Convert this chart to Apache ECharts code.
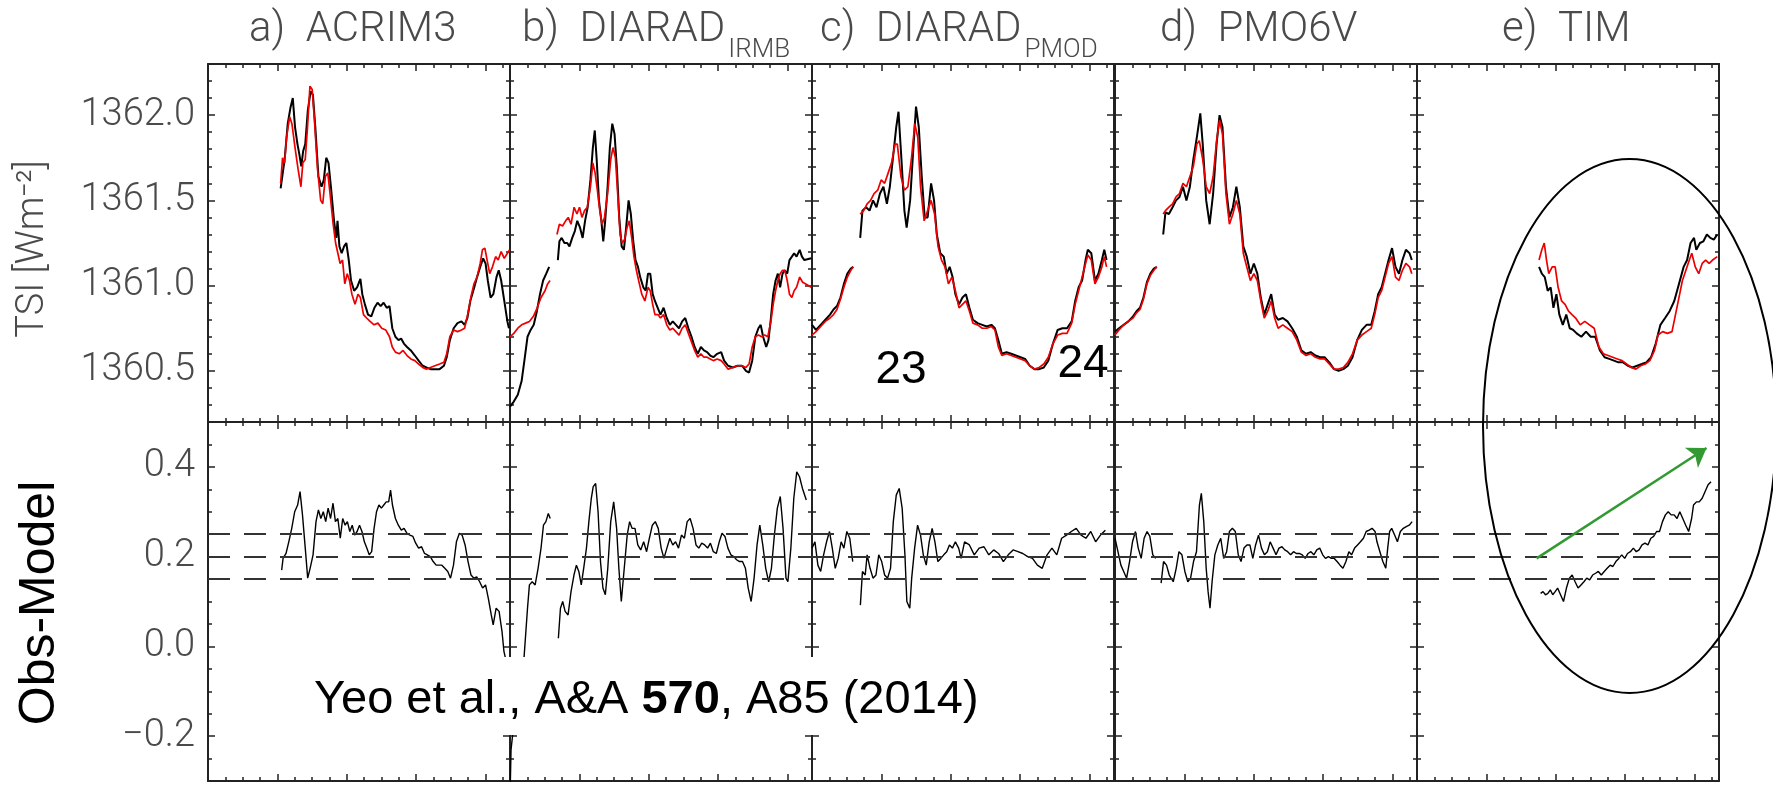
<!DOCTYPE html>
<html><head><meta charset="utf-8">
<script src="https://cdn.jsdelivr.net/npm/echarts@6/dist/echarts.min.js"></script>
<style>html,body{margin:0;padding:0;background:#fff}#c{width:1773px;height:789px}</style>
</head><body><div id="c"></div>
<script>
// ---------------- data ----------------
const panelNames = ['a)  ACRIM3', 'b)  DIARAD', 'c)  DIARAD', 'd)  PMO6V', 'e)  TIM'];
const panelSubs = ['', 'IRMB', 'PMOD', '', ''];
const tsiTicks = [1360.5, 1361.0, 1361.5, 1362.0];
const diffTicks = [-0.2, 0.0, 0.2, 0.4];
const yearTicks = [2000, 2004, 2008, 2012];
const dashLevels = [0.15, 0.2, 0.25];
const cycleLabels = ['23', '24'];
const citation = ['Yeo et al., A&A ', '570', ', A85 (2014)'];
const arrowStart = [2002.9, 0.196];
const arrowEnd = [2012.7, 0.442];

const acrimObs = [[2000.19,1361.57],[2000.42,1361.74],[2000.60,1361.95],[2000.75,1362.04],[2000.89,1362.10],[2001.02,1361.93],[2001.16,1361.83],[2001.27,1361.77],[2001.38,1361.70],[2001.49,1361.79],[2001.61,1361.83],[2001.76,1362.03],[2001.92,1362.14],[2002.05,1362.12],[2002.19,1361.93],[2002.37,1361.64],[2002.55,1361.58],[2002.68,1361.62],[2002.82,1361.75],[2002.95,1361.72],[2003.09,1361.58],[2003.27,1361.38],[2003.40,1361.28],[2003.47,1361.38],[2003.58,1361.23],[2003.71,1361.19],[2003.85,1361.23],[2003.98,1361.25],[2004.12,1361.15],[2004.25,1361.03],[2004.43,1360.97],[2004.60,1360.99],[2004.79,1361.04],[2004.90,1360.95],[2005.05,1360.89],[2005.23,1360.83],[2005.42,1360.82],[2005.60,1360.87],[2005.78,1360.90],[2005.96,1360.88],[2006.13,1360.90],[2006.31,1360.87],[2006.47,1360.88],[2006.63,1360.75],[2006.81,1360.70],[2006.99,1360.68],[2007.14,1360.69],[2007.30,1360.66],[2007.48,1360.64],[2007.70,1360.62],[2007.93,1360.59],[2008.15,1360.56],[2008.38,1360.53],[2008.60,1360.52],[2008.83,1360.51],[2009.09,1360.51],[2009.36,1360.51],[2009.61,1360.53],[2009.77,1360.58],[2009.95,1360.68],[2010.17,1360.75],[2010.39,1360.78],[2010.62,1360.79],[2010.80,1360.77],[2010.96,1360.81],[2011.13,1360.91],[2011.36,1360.99],[2011.52,1361.05],[2011.70,1361.11],[2011.87,1361.16],[2012.01,1361.13],[2012.14,1361.03],[2012.30,1360.93],[2012.46,1360.95],[2012.64,1361.05],[2012.77,1361.09],[2012.91,1361.03],[2013.09,1360.91],[2013.27,1360.79],[2013.36,1360.75]];
const acrimModel = [[2000.19,1361.60],[2000.30,1361.75],[2000.42,1361.72],[2000.53,1361.87],[2000.71,1361.99],[2000.84,1361.95],[2001.02,1361.81],[2001.20,1361.68],[2001.36,1361.58],[2001.47,1361.72],[2001.61,1361.74],[2001.74,1361.93],[2001.88,1362.17],[2002.01,1362.15],[2002.14,1361.97],[2002.32,1361.68],[2002.50,1361.50],[2002.62,1361.48],[2002.77,1361.64],[2002.91,1361.66],[2003.04,1361.54],[2003.22,1361.36],[2003.36,1361.25],[2003.49,1361.19],[2003.62,1361.13],[2003.76,1361.15],[2003.89,1361.01],[2004.03,1361.07],[2004.16,1361.03],[2004.30,1360.95],[2004.48,1360.89],[2004.65,1360.95],[2004.79,1360.93],[2004.97,1360.83],[2005.15,1360.81],[2005.35,1360.79],[2005.58,1360.77],[2005.80,1360.78],[2006.02,1360.75],[2006.25,1360.74],[2006.47,1360.70],[2006.63,1360.64],[2006.81,1360.61],[2007.03,1360.60],[2007.25,1360.62],[2007.48,1360.59],[2007.70,1360.57],[2007.93,1360.56],[2008.15,1360.54],[2008.38,1360.52],[2008.60,1360.51],[2008.83,1360.52],[2009.09,1360.53],[2009.36,1360.54],[2009.61,1360.55],[2009.77,1360.60],[2009.95,1360.70],[2010.17,1360.74],[2010.39,1360.73],[2010.62,1360.74],[2010.80,1360.75],[2010.98,1360.83],[2011.16,1360.93],[2011.34,1361.01],[2011.52,1361.05],[2011.70,1361.13],[2011.83,1361.21],[2011.97,1361.22],[2012.10,1361.15],[2012.25,1361.07],[2012.41,1361.11],[2012.59,1361.17],[2012.74,1361.15],[2012.91,1361.20],[2013.09,1361.16],[2013.27,1361.19],[2013.40,1361.21]];
const acrimDiff = [[2000.25,0.170],[2000.33,0.196],[2000.50,0.207],[2000.66,0.233],[2000.83,0.263],[2001.00,0.300],[2001.17,0.315],[2001.31,0.345],[2001.45,0.293],[2001.61,0.219],[2001.75,0.152],[2001.89,0.174],[2002.06,0.204],[2002.23,0.278],[2002.37,0.304],[2002.51,0.285],[2002.65,0.300],[2002.79,0.278],[2002.93,0.308],[2003.07,0.285],[2003.21,0.319],[2003.35,0.278],[2003.49,0.285],[2003.63,0.241],[2003.77,0.285],[2003.91,0.270],[2004.04,0.278],[2004.18,0.256],[2004.32,0.270],[2004.46,0.248],[2004.60,0.256],[2004.74,0.270],[2004.88,0.256],[2005.02,0.233],[2005.16,0.219],[2005.30,0.204],[2005.44,0.211],[2005.58,0.263],[2005.72,0.300],[2005.86,0.315],[2006.00,0.308],[2006.14,0.315],[2006.28,0.322],[2006.42,0.322],[2006.53,0.348],[2006.64,0.315],[2006.81,0.285],[2006.98,0.270],[2007.15,0.259],[2007.31,0.263],[2007.48,0.252],[2007.65,0.248],[2007.82,0.245],[2007.98,0.230],[2008.15,0.219],[2008.32,0.222],[2008.49,0.207],[2008.65,0.204],[2008.82,0.200],[2008.99,0.189],[2009.16,0.181],[2009.32,0.181],[2009.49,0.181],[2009.66,0.174],[2009.83,0.167],[2009.99,0.152],[2010.16,0.181],[2010.33,0.233],[2010.50,0.252],[2010.66,0.248],[2010.83,0.226],[2011.00,0.189],[2011.17,0.159],[2011.34,0.152],[2011.50,0.155],[2011.67,0.144],[2011.84,0.130],[2012.01,0.137],[2012.17,0.107],[2012.34,0.070],[2012.45,0.048],[2012.62,0.085],[2012.79,0.078],[2012.96,0.033],[2013.07,-0.011],[2013.18,-0.030],[2013.35,-0.100]];

const irmbObs = [[1996.00,1360.29],[1996.22,1360.32],[1996.45,1360.36],[1996.67,1360.44],[1996.83,1360.56],[1997.01,1360.70],[1997.19,1360.74],[1997.37,1360.77],[1997.55,1360.85],[1997.73,1360.95],[1997.91,1361.03],[1998.09,1361.07],[1998.26,1361.11],[1998.5,null],[1998.76,1361.15],[1998.85,1361.26],[1998.98,1361.28],[1999.14,1361.25],[1999.30,1361.25],[1999.43,1361.23],[1999.59,1361.28],[1999.74,1361.32],[1999.88,1361.38],[2000.04,1361.34],[2000.19,1361.28],[2000.33,1361.38],[2000.48,1361.46],[2000.64,1361.62],[2000.78,1361.81],[2000.89,1361.91],[2001.00,1361.74],[2001.13,1361.50],[2001.27,1361.38],[2001.38,1361.26],[2001.49,1361.38],[2001.63,1361.58],[2001.76,1361.81],[2001.90,1361.95],[2002.03,1361.89],[2002.17,1361.68],[2002.30,1361.40],[2002.44,1361.23],[2002.57,1361.21],[2002.70,1361.34],[2002.84,1361.50],[2002.97,1361.42],[2003.11,1361.26],[2003.24,1361.15],[2003.38,1361.11],[2003.51,1361.05],[2003.69,1360.99],[2003.83,1360.97],[2003.96,1361.07],[2004.09,1361.07],[2004.23,1360.95],[2004.36,1360.91],[2004.52,1360.87],[2004.68,1360.83],[2004.86,1360.87],[2005.04,1360.81],[2005.22,1360.77],[2005.39,1360.79],[2005.57,1360.77],[2005.75,1360.75],[2005.93,1360.79],[2006.11,1360.81],[2006.29,1360.75],[2006.47,1360.70],[2006.65,1360.64],[2006.83,1360.60],[2007.01,1360.64],[2007.19,1360.62],[2007.37,1360.61],[2007.55,1360.59],[2007.73,1360.58],[2007.95,1360.60],[2008.18,1360.61],[2008.35,1360.56],[2008.58,1360.53],[2008.85,1360.52],[2009.12,1360.53],[2009.39,1360.53],[2009.61,1360.50],[2009.79,1360.49],[2009.97,1360.56],[2010.15,1360.70],[2010.33,1360.75],[2010.46,1360.77],[2010.60,1360.70],[2010.78,1360.64],[2010.91,1360.68],[2011.05,1360.81],[2011.18,1360.95],[2011.32,1361.03],[2011.45,1361.07],[2011.58,1360.99],[2011.72,1361.07],[2011.85,1361.09],[2011.99,1361.07],[2012.12,1361.15],[2012.26,1361.17],[2012.39,1361.19],[2012.53,1361.17],[2012.71,1361.21],[2012.84,1361.17],[2012.98,1361.15],[2013.38,1361.16]];
const irmbModel = [[1996.00,1360.70],[1996.22,1360.72],[1996.45,1360.75],[1996.67,1360.77],[1996.90,1360.78],[1997.12,1360.79],[1997.35,1360.82],[1997.57,1360.87],[1997.79,1360.93],[1998.02,1360.97],[1998.17,1361.01],[1998.31,1361.03],[1998.5,null],[1998.71,1361.30],[1998.85,1361.36],[1999.03,1361.35],[1999.21,1361.38],[1999.36,1361.40],[1999.52,1361.36],[1999.70,1361.46],[1999.86,1361.42],[2000.01,1361.46],[2000.15,1361.40],[2000.30,1361.44],[2000.46,1361.46],[2000.64,1361.58],[2000.78,1361.72],[2000.91,1361.66],[2001.04,1361.56],[2001.18,1361.44],[2001.31,1361.36],[2001.45,1361.40],[2001.63,1361.54],[2001.81,1361.74],[2001.94,1361.81],[2002.08,1361.75],[2002.21,1361.54],[2002.35,1361.30],[2002.48,1361.25],[2002.61,1361.27],[2002.75,1361.34],[2002.88,1361.38],[2003.02,1361.28],[2003.15,1361.17],[2003.29,1361.09],[2003.42,1361.03],[2003.60,1360.95],[2003.78,1360.91],[2003.96,1360.99],[2004.09,1360.97],[2004.23,1360.89],[2004.36,1360.83],[2004.54,1360.83],[2004.68,1360.81],[2004.86,1360.83],[2005.04,1360.77],[2005.22,1360.74],[2005.39,1360.75],[2005.57,1360.73],[2005.75,1360.71],[2005.93,1360.75],[2006.11,1360.77],[2006.29,1360.72],[2006.47,1360.67],[2006.65,1360.62],[2006.83,1360.58],[2007.01,1360.60],[2007.19,1360.58],[2007.37,1360.58],[2007.55,1360.57],[2007.73,1360.56],[2007.95,1360.57],[2008.18,1360.56],[2008.35,1360.54],[2008.58,1360.51],[2008.85,1360.52],[2009.12,1360.53],[2009.39,1360.53],[2009.61,1360.52],[2009.79,1360.54],[2009.97,1360.64],[2010.15,1360.70],[2010.33,1360.71],[2010.51,1360.70],[2010.69,1360.71],[2010.87,1360.70],[2011.05,1360.79],[2011.18,1360.89],[2011.32,1360.97],[2011.45,1361.03],[2011.58,1361.07],[2011.72,1361.09],[2011.85,1361.09],[2011.99,1361.03],[2012.12,1360.95],[2012.26,1360.93],[2012.39,1360.97],[2012.53,1360.99],[2012.71,1361.05],[2012.88,1361.02],[2013.06,1361.01],[2013.38,1360.99]];
const irmbDiff = [[1996.00,-0.340],[1996.06,-0.230],[1996.40,-0.110],[1996.80,-0.030],[1997.01,0.085],[1997.12,0.137],[1997.28,0.144],[1997.45,0.137],[1997.62,0.174],[1997.79,0.219],[1997.93,0.270],[1998.07,0.278],[1998.21,0.296],[1998.32,0.285],[1998.5,null],[1998.79,0.018],[1998.91,0.085],[1999.04,0.100],[1999.18,0.078],[1999.35,0.070],[1999.52,0.122],[1999.69,0.159],[1999.83,0.181],[1999.97,0.167],[2000.11,0.137],[2000.25,0.174],[2000.41,0.219],[2000.55,0.278],[2000.69,0.330],[2000.80,0.356],[2000.94,0.363],[2001.08,0.300],[2001.22,0.189],[2001.36,0.130],[2001.50,0.115],[2001.64,0.174],[2001.81,0.278],[2001.98,0.322],[2002.15,0.263],[2002.28,0.174],[2002.42,0.100],[2002.59,0.174],[2002.76,0.248],[2002.90,0.278],[2003.04,0.263],[2003.21,0.263],[2003.37,0.226],[2003.54,0.215],[2003.71,0.233],[2003.88,0.211],[2004.04,0.241],[2004.21,0.270],[2004.38,0.278],[2004.55,0.263],[2004.72,0.219],[2004.88,0.196],[2005.05,0.219],[2005.22,0.241],[2005.39,0.226],[2005.55,0.233],[2005.72,0.219],[2005.89,0.248],[2006.06,0.241],[2006.22,0.278],[2006.39,0.285],[2006.56,0.263],[2006.73,0.226],[2006.89,0.219],[2007.06,0.230],[2007.23,0.226],[2007.40,0.219],[2007.56,0.230],[2007.73,0.211],[2007.90,0.207],[2008.07,0.233],[2008.23,0.252],[2008.40,0.245],[2008.57,0.219],[2008.74,0.204],[2008.91,0.200],[2009.07,0.193],[2009.24,0.189],[2009.41,0.189],[2009.58,0.174],[2009.74,0.130],[2009.91,0.100],[2010.08,0.152],[2010.25,0.226],[2010.41,0.270],[2010.58,0.226],[2010.75,0.174],[2010.92,0.144],[2011.08,0.174],[2011.25,0.248],[2011.42,0.308],[2011.59,0.334],[2011.75,0.263],[2011.92,0.152],[2012.03,0.144],[2012.20,0.219],[2012.37,0.330],[2012.54,0.389],[2012.70,0.378],[2012.87,0.352],[2013.09,0.326]];

const pmodObs = [[1996.00,1360.77],[1996.23,1360.74],[1996.50,1360.77],[1996.77,1360.80],[1997.04,1360.83],[1997.24,1360.86],[1997.44,1360.88],[1997.64,1360.93],[1997.84,1361.01],[1998.04,1361.07],[1998.24,1361.10],[1998.38,1361.11],[1998.55,null],[1998.78,1361.28],[1998.91,1361.44],[1999.12,1361.46],[1999.32,1361.44],[1999.52,1361.50],[1999.72,1361.46],[1999.92,1361.54],[2000.12,1361.58],[2000.32,1361.48],[2000.49,1361.58],[2000.66,1361.74],[2000.86,1361.93],[2000.99,1362.02],[2001.16,1361.74],[2001.33,1361.44],[2001.46,1361.34],[2001.66,1361.50],[2001.86,1361.83],[2002.00,1362.05],[2002.16,1361.93],[2002.33,1361.64],[2002.50,1361.40],[2002.67,1361.40],[2002.87,1361.60],[2003.04,1361.50],[2003.20,1361.30],[2003.40,1361.19],[2003.60,1361.17],[2003.77,1361.07],[2003.94,1361.11],[2004.11,1361.05],[2004.27,1360.95],[2004.48,1360.89],[2004.68,1360.93],[2004.88,1360.95],[2005.08,1360.87],[2005.28,1360.80],[2005.55,1360.78],[2005.82,1360.77],[2006.08,1360.76],[2006.35,1360.77],[2006.55,1360.75],[2006.75,1360.68],[2006.95,1360.60],[2007.22,1360.61],[2007.49,1360.60],[2007.76,1360.59],[2008.03,1360.58],[2008.29,1360.57],[2008.56,1360.53],[2008.83,1360.51],[2009.10,1360.51],[2009.37,1360.52],[2009.63,1360.56],[2009.90,1360.66],[2010.17,1360.74],[2010.44,1360.75],[2010.71,1360.75],[2010.98,1360.79],[2011.18,1360.91],[2011.38,1360.99],[2011.58,1361.03],[2011.78,1361.15],[2011.91,1361.21],[2012.11,1361.19],[2012.32,1361.03],[2012.52,1361.07],[2012.72,1361.15],[2012.86,1361.21],[2012.99,1361.15]];
const pmodModel = [[1996.00,1360.71],[1996.23,1360.73],[1996.50,1360.76],[1996.77,1360.79],[1997.04,1360.81],[1997.24,1360.83],[1997.44,1360.86],[1997.64,1360.92],[1997.84,1360.99],[1998.04,1361.05],[1998.24,1361.09],[1998.38,1361.11],[1998.55,null],[1998.78,1361.42],[1998.98,1361.44],[1999.18,1361.48],[1999.38,1361.50],[1999.58,1361.54],[1999.79,1361.56],[1999.99,1361.62],[2000.19,1361.60],[2000.39,1361.66],[2000.59,1361.72],[2000.79,1361.83],[2000.92,1361.83],[2001.13,1361.64],[2001.33,1361.56],[2001.53,1361.58],[2001.73,1361.74],[2001.93,1361.95],[2002.10,1361.87],[2002.26,1361.58],[2002.47,1361.38],[2002.67,1361.44],[2002.87,1361.50],[2003.07,1361.42],[2003.27,1361.23],[2003.47,1361.15],[2003.67,1361.11],[2003.87,1361.01],[2004.07,1361.05],[2004.27,1360.97],[2004.48,1360.87],[2004.68,1360.89],[2004.88,1360.91],[2005.08,1360.85],[2005.28,1360.78],[2005.55,1360.77],[2005.82,1360.75],[2006.08,1360.75],[2006.35,1360.76],[2006.55,1360.74],[2006.75,1360.64],[2006.95,1360.59],[2007.22,1360.60],[2007.49,1360.59],[2007.76,1360.58],[2008.03,1360.57],[2008.29,1360.56],[2008.56,1360.53],[2008.83,1360.51],[2009.10,1360.52],[2009.37,1360.54],[2009.63,1360.58],[2009.90,1360.66],[2010.17,1360.71],[2010.44,1360.72],[2010.71,1360.72],[2010.98,1360.78],[2011.18,1360.89],[2011.38,1360.97],[2011.58,1361.05],[2011.78,1361.13],[2011.91,1361.18],[2012.11,1361.15],[2012.32,1361.01],[2012.52,1361.05],[2012.72,1361.11],[2012.86,1361.17],[2012.99,1361.11]];
const pmodDiff = [[1996.00,0.219],[1996.17,0.233],[1996.34,0.181],[1996.50,0.167],[1996.67,0.204],[1996.84,0.233],[1997.01,0.256],[1997.17,0.219],[1997.34,0.174],[1997.51,0.196],[1997.68,0.233],[1997.84,0.219],[1998.01,0.256],[1998.18,0.241],[1998.35,0.189],[1998.55,null],[1998.79,0.092],[1998.91,0.167],[1999.07,0.159],[1999.18,0.204],[1999.35,0.174],[1999.52,0.152],[1999.69,0.159],[1999.85,0.204],[2000.02,0.189],[2000.19,0.159],[2000.36,0.152],[2000.53,0.174],[2000.69,0.278],[2000.86,0.337],[2001.03,0.352],[2001.20,0.308],[2001.36,0.204],[2001.47,0.100],[2001.64,0.085],[2001.75,0.152],[2001.92,0.219],[2002.09,0.270],[2002.26,0.248],[2002.42,0.204],[2002.59,0.181],[2002.76,0.233],[2002.93,0.263],[2003.09,0.233],[2003.26,0.189],[2003.43,0.196],[2003.60,0.204],[2003.77,0.211],[2003.93,0.226],[2004.10,0.219],[2004.27,0.233],[2004.46,0.219],[2004.60,0.196],[2004.80,0.233],[2005.08,0.226],[2005.36,0.204],[2005.64,0.219],[2005.92,0.222],[2006.20,0.204],[2006.48,0.215],[2006.76,0.207],[2007.04,0.189],[2007.32,0.204],[2007.60,0.215],[2007.88,0.211],[2008.16,0.207],[2008.44,0.200],[2008.72,0.196],[2009.00,0.181],[2009.28,0.174],[2009.56,0.204],[2009.84,0.219],[2010.12,0.204],[2010.40,0.241],[2010.68,0.248],[2010.96,0.256],[2011.24,0.263],[2011.52,0.248],[2011.80,0.241],[2012.08,0.256],[2012.36,0.233],[2012.64,0.248],[2012.92,0.259]];

const pmo6vObs = [[1996.00,1360.73],[1996.23,1360.75],[1996.50,1360.77],[1996.77,1360.79],[1997.04,1360.82],[1997.24,1360.85],[1997.44,1360.87],[1997.64,1360.93],[1997.84,1361.02],[1998.04,1361.07],[1998.24,1361.10],[1998.41,1361.11],[1998.6,null],[1998.78,1361.30],[1998.91,1361.43],[1999.11,1361.42],[1999.32,1361.46],[1999.52,1361.50],[1999.72,1361.52],[1999.92,1361.58],[2000.12,1361.50],[2000.32,1361.58],[2000.52,1361.74],[2000.72,1361.87],[2000.92,1362.01],[2001.06,1361.83],[2001.26,1361.50],[2001.46,1361.36],[2001.66,1361.54],[2001.86,1361.83],[2002.03,1362.00],[2002.20,1361.93],[2002.40,1361.58],[2002.60,1361.40],[2002.80,1361.46],[2003.00,1361.58],[2003.20,1361.46],[2003.40,1361.23],[2003.60,1361.17],[2003.81,1361.07],[2004.01,1361.13],[2004.21,1361.07],[2004.41,1360.93],[2004.61,1360.83],[2004.81,1360.89],[2005.01,1360.95],[2005.21,1360.83],[2005.41,1360.80],[2005.68,1360.81],[2005.95,1360.79],[2006.22,1360.75],[2006.49,1360.70],[2006.75,1360.62],[2007.02,1360.60],[2007.29,1360.61],[2007.56,1360.59],[2007.83,1360.58],[2008.09,1360.58],[2008.36,1360.55],[2008.63,1360.51],[2008.90,1360.50],[2009.17,1360.51],[2009.43,1360.53],[2009.70,1360.58],[2009.97,1360.68],[2010.24,1360.74],[2010.51,1360.77],[2010.78,1360.77],[2010.98,1360.85],[2011.18,1360.95],[2011.38,1360.99],[2011.58,1361.07],[2011.78,1361.15],[2011.98,1361.22],[2012.18,1361.11],[2012.38,1361.07],[2012.58,1361.15],[2012.78,1361.21],[2012.99,1361.19],[2013.12,1361.15]];
const pmo6vModel = [[1996.00,1360.71],[1996.23,1360.74],[1996.50,1360.77],[1996.77,1360.79],[1997.04,1360.81],[1997.24,1360.84],[1997.44,1360.86],[1997.64,1360.92],[1997.84,1361.01],[1998.04,1361.06],[1998.24,1361.09],[1998.41,1361.11],[1998.6,null],[1998.78,1361.42],[1998.91,1361.44],[1999.11,1361.46],[1999.32,1361.48],[1999.52,1361.52],[1999.72,1361.54],[1999.92,1361.60],[2000.12,1361.58],[2000.32,1361.64],[2000.52,1361.70],[2000.72,1361.83],[2000.86,1361.85],[2001.06,1361.74],[2001.26,1361.58],[2001.46,1361.54],[2001.66,1361.64],[2001.86,1361.85],[2002.03,1361.97],[2002.20,1361.89],[2002.40,1361.54],[2002.60,1361.36],[2002.80,1361.42],[2003.00,1361.50],[2003.20,1361.42],[2003.40,1361.19],[2003.60,1361.11],[2003.81,1361.03],[2004.01,1361.07],[2004.21,1361.03],[2004.41,1360.91],[2004.61,1360.81],[2004.81,1360.85],[2005.01,1360.91],[2005.21,1360.81],[2005.41,1360.75],[2005.68,1360.77],[2005.95,1360.75],[2006.22,1360.73],[2006.49,1360.68],[2006.75,1360.61],[2007.02,1360.59],[2007.29,1360.60],[2007.56,1360.58],[2007.83,1360.57],[2008.09,1360.57],[2008.36,1360.54],[2008.63,1360.51],[2008.90,1360.51],[2009.17,1360.52],[2009.43,1360.55],[2009.70,1360.60],[2009.97,1360.68],[2010.24,1360.71],[2010.51,1360.73],[2010.78,1360.75],[2010.98,1360.83],[2011.18,1360.93],[2011.38,1360.97],[2011.58,1361.05],[2011.78,1361.13],[2011.98,1361.17],[2012.18,1361.05],[2012.38,1361.03],[2012.58,1361.09],[2012.78,1361.13],[2012.99,1361.11],[2013.12,1361.07]];
const pmo6vDiff = [[1996.00,0.241],[1996.17,0.211],[1996.34,0.181],[1996.50,0.167],[1996.67,0.152],[1996.84,0.189],[1997.01,0.233],[1997.18,0.256],[1997.34,0.219],[1997.51,0.196],[1997.68,0.241],[1997.85,0.256],[1998.01,0.245],[1998.18,0.204],[1998.35,0.196],[1998.5,null],[1998.66,0.141],[1998.80,0.189],[1998.97,0.181],[1999.13,0.159],[1999.36,0.144],[1999.53,0.174],[1999.69,0.211],[1999.86,0.204],[2000.03,0.167],[2000.20,0.144],[2000.36,0.152],[2000.53,0.189],[2000.70,0.211],[2000.87,0.315],[2000.98,0.341],[2001.12,0.278],[2001.26,0.174],[2001.37,0.122],[2001.48,0.085],[2001.60,0.144],[2001.76,0.204],[2001.93,0.226],[2002.10,0.241],[2002.27,0.196],[2002.44,0.211],[2002.60,0.256],[2002.77,0.263],[2002.94,0.256],[2003.11,0.204],[2003.27,0.189],[2003.44,0.219],[2003.61,0.226],[2003.78,0.226],[2003.95,0.196],[2004.11,0.226],[2004.28,0.248],[2004.45,0.219],[2004.62,0.204],[2004.79,0.211],[2004.95,0.233],[2005.12,0.219],[2005.29,0.204],[2005.46,0.219],[2005.63,0.222],[2005.79,0.215],[2005.96,0.211],[2006.13,0.204],[2006.30,0.211],[2006.46,0.207],[2006.63,0.207],[2006.80,0.204],[2006.97,0.196],[2007.14,0.207],[2007.30,0.211],[2007.47,0.204],[2007.64,0.215],[2007.81,0.219],[2007.98,0.204],[2008.14,0.196],[2008.31,0.200],[2008.48,0.196],[2008.65,0.196],[2008.81,0.189],[2008.98,0.181],[2009.15,0.174],[2009.32,0.189],[2009.49,0.211],[2009.65,0.204],[2009.82,0.219],[2009.99,0.226],[2010.16,0.233],[2010.33,0.241],[2010.49,0.256],[2010.66,0.259],[2010.83,0.263],[2011.00,0.256],[2011.11,0.233],[2011.28,0.211],[2011.45,0.189],[2011.62,0.174],[2011.73,0.219],[2011.84,0.256],[2011.96,0.263],[2012.13,0.248],[2012.29,0.233],[2012.46,0.256],[2012.63,0.263],[2012.80,0.267],[2012.97,0.270],[2013.14,0.278]];

const timObs = [[2003.04,1361.11],[2003.20,1361.07],[2003.37,1361.05],[2003.54,1360.97],[2003.71,1360.99],[2003.87,1360.87],[2004.04,1360.95],[2004.21,1360.83],[2004.41,1360.77],[2004.61,1360.83],[2004.81,1360.75],[2005.01,1360.74],[2005.21,1360.72],[2005.48,1360.70],[2005.75,1360.73],[2006.02,1360.70],[2006.28,1360.70],[2006.55,1360.62],[2006.82,1360.58],[2007.09,1360.57],[2007.36,1360.56],[2007.62,1360.55],[2007.89,1360.55],[2008.16,1360.53],[2008.43,1360.52],[2008.70,1360.53],[2008.97,1360.54],[2009.23,1360.55],[2009.50,1360.58],[2009.77,1360.66],[2010.04,1360.77],[2010.31,1360.81],[2010.57,1360.85],[2010.84,1360.91],[2011.11,1361.01],[2011.38,1361.11],[2011.58,1361.15],[2011.78,1361.25],[2011.98,1361.28],[2012.11,1361.21],[2012.32,1361.25],[2012.52,1361.26],[2012.72,1361.30],[2012.92,1361.28],[2013.12,1361.27],[2013.32,1361.30]];
const timModel = [[2003.04,1361.15],[2003.20,1361.21],[2003.34,1361.25],[2003.47,1361.15],[2003.60,1361.07],[2003.80,1361.11],[2003.97,1361.11],[2004.14,1360.99],[2004.34,1360.91],[2004.54,1360.89],[2004.74,1360.85],[2004.94,1360.83],[2005.15,1360.81],[2005.41,1360.77],[2005.68,1360.79],[2005.95,1360.77],[2006.22,1360.75],[2006.49,1360.64],[2006.75,1360.60],[2007.02,1360.59],[2007.29,1360.58],[2007.56,1360.57],[2007.83,1360.56],[2008.09,1360.54],[2008.36,1360.52],[2008.63,1360.51],[2008.90,1360.53],[2009.17,1360.54],[2009.43,1360.56],[2009.70,1360.62],[2009.90,1360.71],[2010.17,1360.73],[2010.44,1360.72],[2010.71,1360.73],[2010.91,1360.83],[2011.11,1360.93],[2011.31,1361.03],[2011.51,1361.09],[2011.71,1361.15],[2011.85,1361.19],[2012.05,1361.11],[2012.25,1361.07],[2012.45,1361.13],[2012.65,1361.15],[2012.85,1361.13],[2013.05,1361.15],[2013.32,1361.17]];
const timDiff = [[2003.13,0.118],[2003.27,0.122],[2003.41,0.115],[2003.55,0.118],[2003.69,0.126],[2003.83,0.115],[2003.97,0.122],[2004.11,0.130],[2004.28,0.115],[2004.45,0.100],[2004.62,0.130],[2004.79,0.152],[2004.95,0.159],[2005.12,0.144],[2005.29,0.130],[2005.46,0.137],[2005.63,0.144],[2005.79,0.152],[2005.96,0.148],[2006.13,0.159],[2006.30,0.163],[2006.46,0.167],[2006.63,0.159],[2006.80,0.167],[2006.97,0.174],[2007.14,0.181],[2007.30,0.178],[2007.47,0.189],[2007.64,0.196],[2007.81,0.204],[2007.98,0.196],[2008.14,0.207],[2008.31,0.211],[2008.48,0.219],[2008.65,0.211],[2008.81,0.215],[2008.98,0.226],[2009.15,0.230],[2009.32,0.226],[2009.49,0.241],[2009.65,0.245],[2009.82,0.256],[2009.99,0.256],[2010.16,0.278],[2010.33,0.293],[2010.49,0.300],[2010.66,0.293],[2010.83,0.293],[2011.00,0.285],[2011.16,0.300],[2011.33,0.285],[2011.50,0.270],[2011.67,0.256],[2011.84,0.285],[2011.95,0.315],[2012.12,0.322],[2012.28,0.322],[2012.45,0.330],[2012.62,0.345],[2012.79,0.360],[2012.96,0.367]];

const obsSeries = [acrimObs, irmbObs, pmodObs, pmo6vObs, timObs];
const modelSeries = [acrimModel, irmbModel, pmodModel, pmo6vModel, timModel];
const diffSeries = [acrimDiff, irmbDiff, pmodDiff, pmo6vDiff, timDiff];

// ---------------- layout / style ----------------
const colLeft = [208, 510, 812, 1115, 1417];
const colW = 302;
const rowTop = [64, 422];
const rowH = [358, 359];
const X_MIN = 1996, X_MAX = 2013.42;
const TSI_MIN = 1360.2, TSI_MAX = 1362.3;
const D_MIN = -0.3, D_MAX = 0.5;
const AX = '#222';
const GRAY = '#4a4a4a';
const thin = '300';

function range(a, b, step) { const r = []; for (let v = a; v <= b + 1e-9; v += step) r.push(Math.round(v * 1000) / 1000); return r; }
const yearMinor = range(1997, 2013, 1).filter(v => yearTicks.indexOf(v) < 0);
const tsiMinor = range(1360.3, 1362.2, 0.1).filter(v => !tsiTicks.some(t => Math.abs(t - v) < 1e-6));
const diffMinor = range(-0.25, 0.45, 0.05).filter(v => !diffTicks.some(t => Math.abs(t - v) < 1e-6));

const grids = [], xAxes = [], yAxes = [], series = [];
function tickStyle() { return { color: AX, width: 1.5 }; }

for (let r = 0; r < 2; r++) {
  for (let c = 0; c < 5; c++) {
    const g = grids.length;
    grids.push({ left: colLeft[c], top: rowTop[r], width: colW, height: rowH[r], containLabel: false, outerBoundsMode: 'none', show: false });
    ['bottom', 'top'].forEach(pos => {
      [true, false].forEach(major => {
        xAxes.push({
          type: 'value', gridIndex: g, position: pos, min: X_MIN, max: X_MAX,
          axisLine: { show: major, onZero: false, lineStyle: { color: AX, width: 2 } },
          axisTick: { show: true, inside: true, length: major ? 7 : 4, customValues: major ? yearTicks : yearMinor, lineStyle: tickStyle() },
          axisLabel: { show: false }, splitLine: { show: false }
        });
      });
    });
    const yMin = r === 0 ? TSI_MIN : D_MIN, yMax = r === 0 ? TSI_MAX : D_MAX;
    const majors = r === 0 ? tsiTicks : diffTicks, minors = r === 0 ? tsiMinor : diffMinor;
    ['left', 'right'].forEach(pos => {
      [true, false].forEach(major => {
        const showLab = major && pos === 'left' && c === 0;
        yAxes.push({
          type: 'value', gridIndex: g, position: pos, min: yMin, max: yMax,
          axisLine: { show: major, onZero: false, lineStyle: { color: AX, width: 2 } },
          axisTick: { show: true, inside: true, length: major ? 7 : 4, customValues: major ? majors : minors, lineStyle: tickStyle() },
          axisLabel: {
            show: showLab, customValues: majors, margin: 13, fontSize: 38, fontFamily: 'Roboto', fontWeight: thin, color: GRAY,
            formatter: v => r === 0 ? Number(v).toFixed(1) : (v < -1e-9 ? '\u2212' : '') + Math.abs(v).toFixed(1)
          },
          splitLine: { show: false }
        });
      });
    });
    const xi = g * 4, yi = g * 4;
    if (r === 0) {
      series.push({ type: 'line', xAxisIndex: xi, yAxisIndex: yi, data: obsSeries[c], showSymbol: false, symbol: 'none', connectNulls: false, clip: true, lineStyle: { color: '#000', width: 2 }, z: 3 });
      series.push({ type: 'line', xAxisIndex: xi, yAxisIndex: yi, data: modelSeries[c], showSymbol: false, symbol: 'none', connectNulls: false, clip: true, lineStyle: { color: '#ee0000', width: 1.7 }, z: 4 });
    } else {
      series.push({
        type: 'line', xAxisIndex: xi, yAxisIndex: yi, data: diffSeries[c], showSymbol: false, symbol: 'none', connectNulls: false, clip: true,
        lineStyle: { color: '#000', width: 1.4 }, z: 3,
        markLine: { silent: true, symbol: ['none', 'none'], label: { show: false }, emphasis: { disabled: true },
          lineStyle: { type: [22, 14], color: '#333', width: 2 }, data: dashLevels.map(v => ({ yAxis: v })) }
      });
      if (c === 4) {
        series.push({
          type: 'line', xAxisIndex: xi, yAxisIndex: yi, data: [arrowStart, arrowEnd], showSymbol: false, symbol: 'none', lineStyle: { opacity: 0 }, z: 6,
          markLine: { silent: true, symbol: ['none', 'arrow'], symbolSize: 18, label: { show: false }, emphasis: { disabled: true },
            lineStyle: { type: 'solid', color: '#339a33', width: 2.5 }, data: [[{ coord: arrowStart }, { coord: arrowEnd }]] }
        });
      }
    }
  }
}

// text measurement for subscripts
const mctx = document.createElement('canvas').getContext('2d');
function tw(font, s) { mctx.font = font; return mctx.measureText(s).width; }

const titleStart = [249, 522, 820, 1160, 1502];
const titleFont = thin + ' 42px Roboto';
const subFont = thin + ' 26px Roboto';
const graphic = [];
panelNames.forEach((t, i) => {
  graphic.push({ type: 'text', x: titleStart[i], y: 30, z: 50, style: { text: t, font: titleFont, fill: GRAY, align: 'left', verticalAlign: 'middle' } });
  if (panelSubs[i]) {
    graphic.push({ type: 'text', x: titleStart[i] + tw(titleFont, t) + 3, y: 50, z: 50, style: { text: panelSubs[i], font: subFont, fill: GRAY, align: 'left', verticalAlign: 'middle' } });
  }
});
graphic.push({ type: 'text', x: 33, y: 249, rotation: Math.PI / 2, z: 50, style: { text: 'TSI [Wm\u207B\u00B2]', font: thin + ' 38px Roboto', fill: GRAY, align: 'center', verticalAlign: 'middle' } });
graphic.push({ type: 'text', x: 40, y: 603, rotation: Math.PI / 2, z: 50, style: { text: 'Obs-Model', font: '50px "Liberation Sans"', fill: '#000', align: 'center', verticalAlign: 'middle' } });
graphic.push({ type: 'text', x: 901, y: 370, z: 50, style: { text: cycleLabels[0], font: '46px "Liberation Sans"', fill: '#000', align: 'center', verticalAlign: 'middle' } });
graphic.push({ type: 'text', x: 1083, y: 364, z: 50, style: { text: cycleLabels[1], font: '46px "Liberation Sans"', fill: '#000', align: 'center', verticalAlign: 'middle' } });
graphic.push({ type: 'rect', z: 49, shape: { x: 300, y: 657, width: 700, height: 78 }, style: { fill: '#fff' } });
graphic.push({ type: 'text', x: 314, y: 700, z: 50, style: {
  text: '{n|' + citation[0] + '}{b|' + citation[1] + '}{n|' + citation[2] + '}',
  align: 'left', verticalAlign: 'middle',
  rich: { n: { fontSize: 47, fontFamily: 'Liberation Sans', fill: '#000' }, b: { fontSize: 47, fontFamily: 'Liberation Sans', fontWeight: 'bold', fill: '#000' } }
} });
graphic.push({ type: 'ellipse', z: 50, shape: { cx: 1629.6, cy: 426, rx: 146.6, ry: 267 }, style: { fill: 'none', stroke: '#000', lineWidth: 2 } });

const chart = echarts.init(document.getElementById('c'), null, { renderer: 'canvas' });
chart.setOption({
  animation: false,
  backgroundColor: '#fff',
  grid: grids, xAxis: xAxes, yAxis: yAxes, series: series, graphic: graphic
});
</script></body></html>
